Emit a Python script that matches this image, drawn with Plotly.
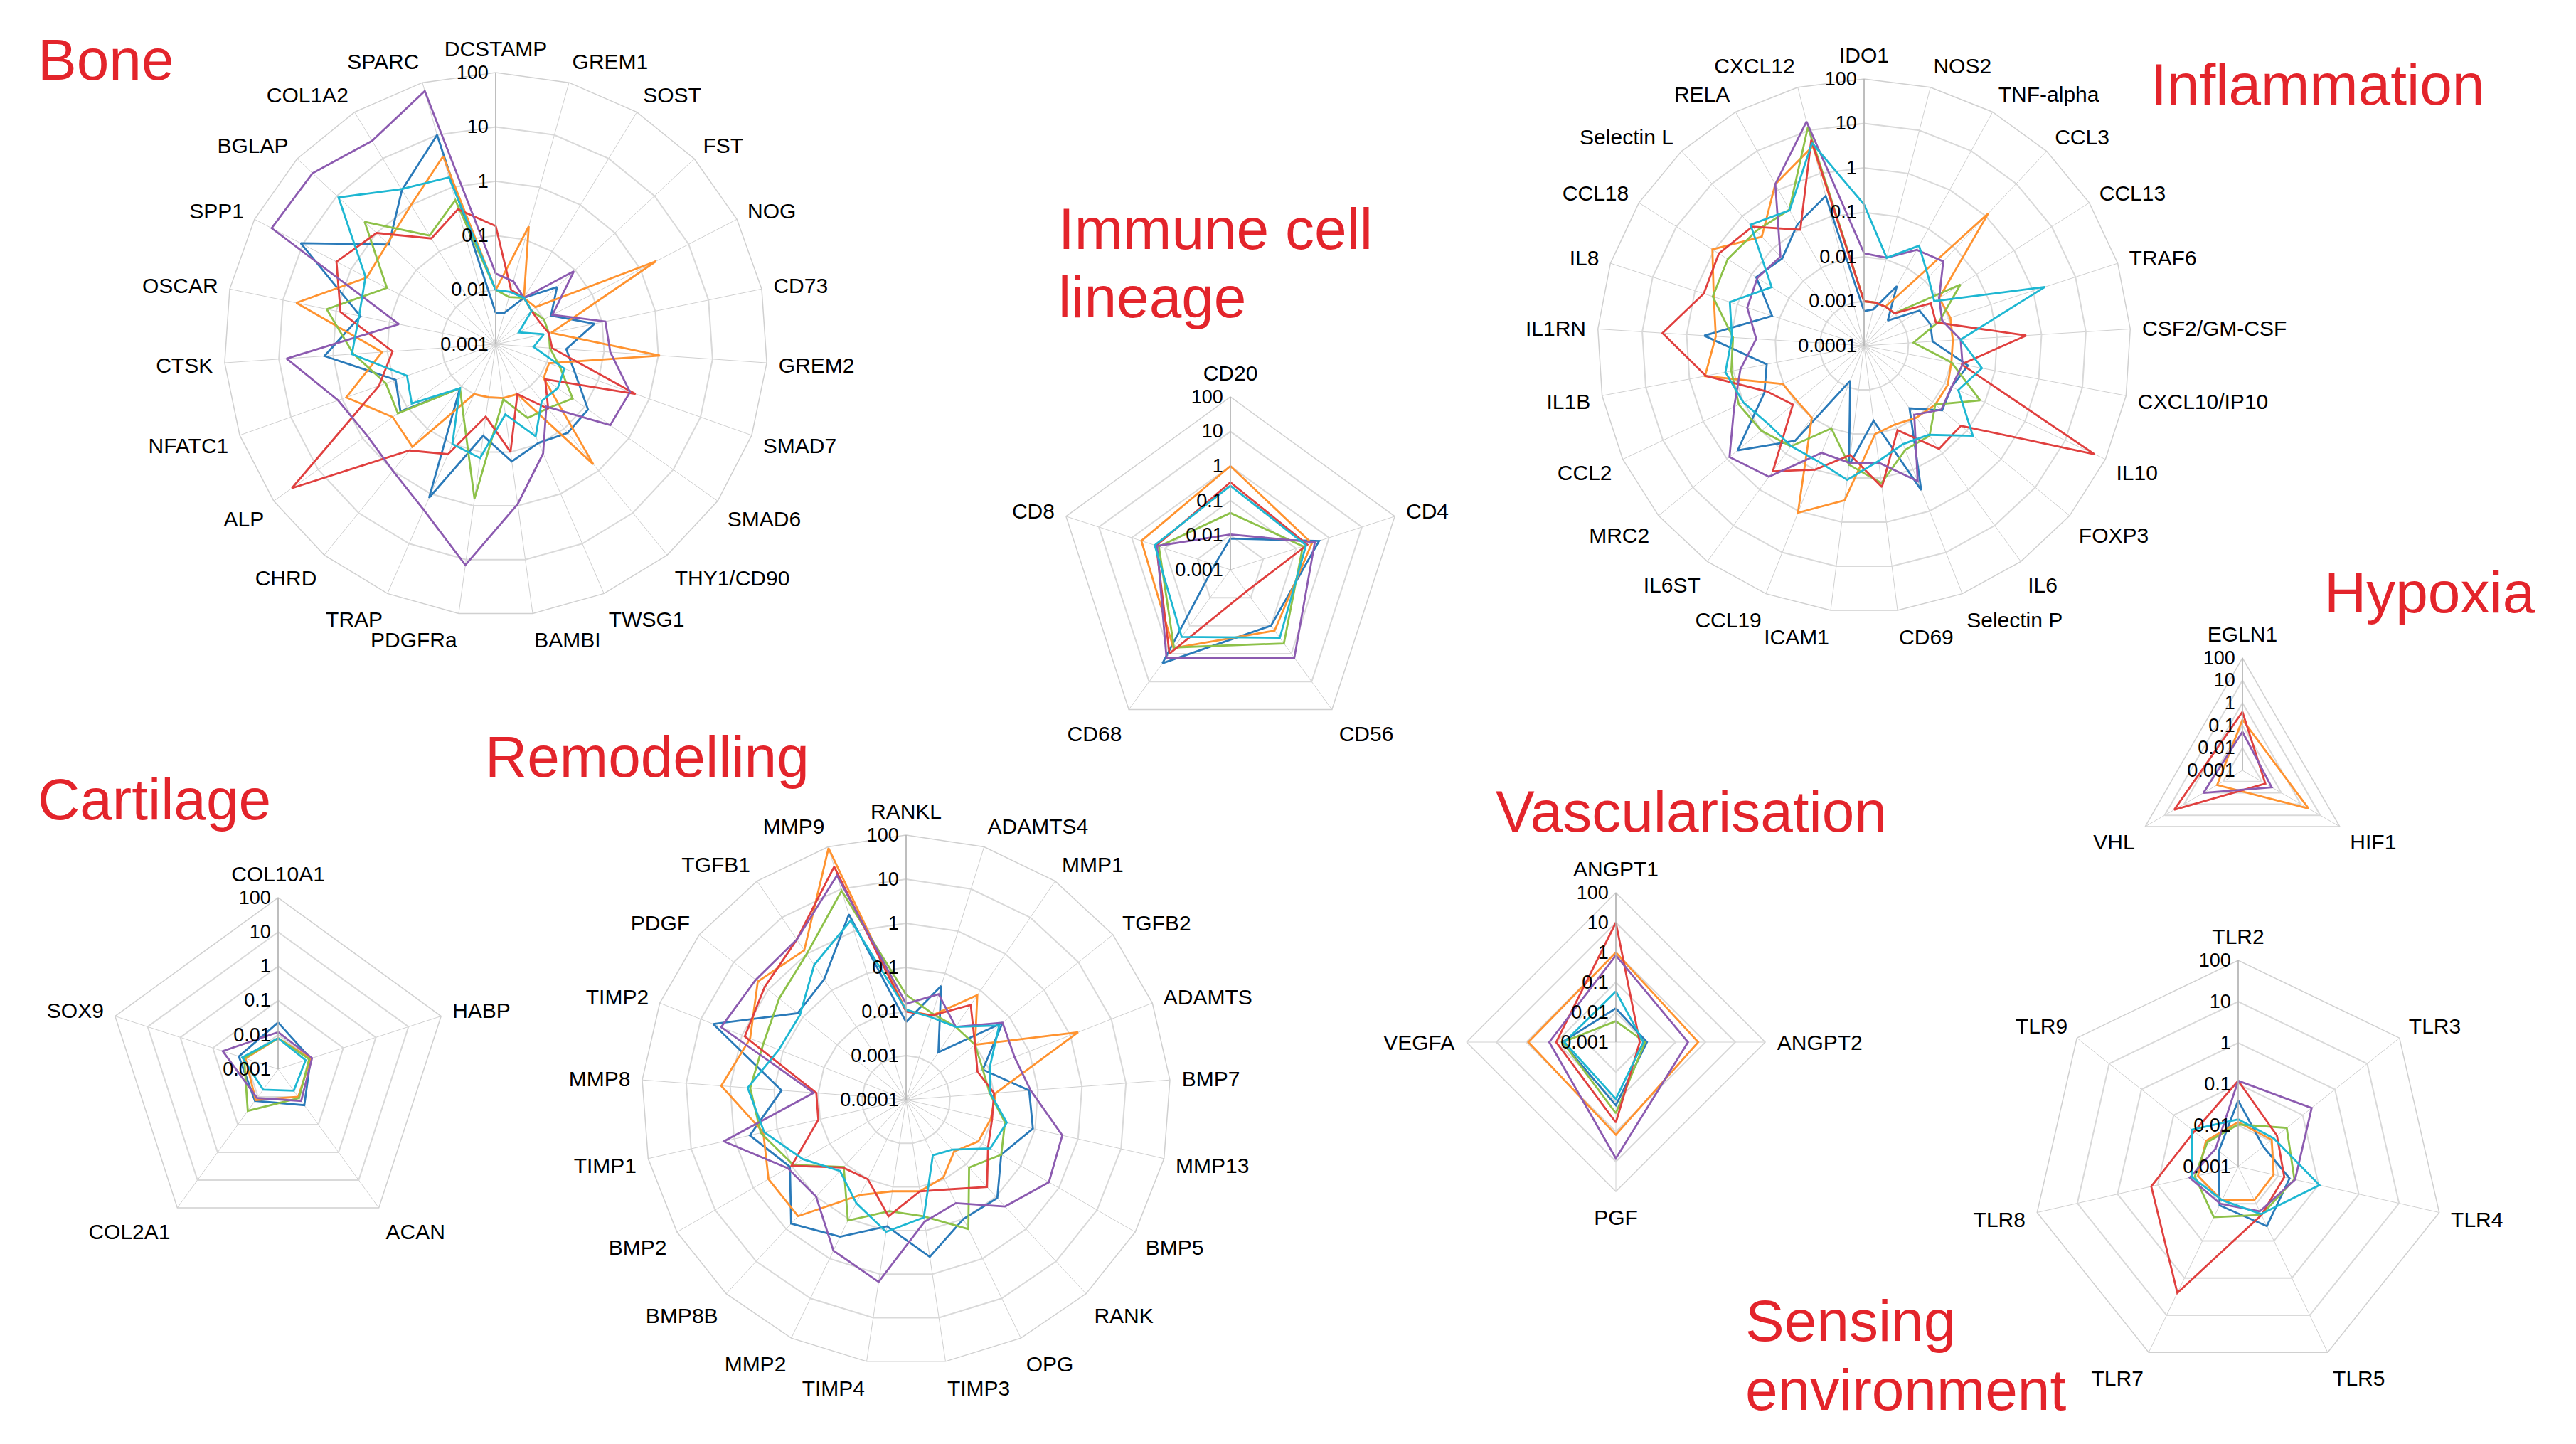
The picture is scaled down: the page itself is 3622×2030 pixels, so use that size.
import plotly.graph_objects as go

W, H = 3622, 2030
FONT = "Liberation Sans, Arial, Helvetica, sans-serif"
COLORS = {"blue": "#2a7ab9", "orange": "#ff9330", "green": "#8dc149",
          "red": "#e0403f", "purple": "#8c5bb0", "cyan": "#1eb7d2"}
SERIES = ["blue", "orange", "green", "red", "purple", "cyan"]

# ---------------- Bone ----------------
bone_cats = ["DCSTAMP", "GREM1", "SOST", "FST", "NOG", "CD73", "GREM2", "SMAD7", "SMAD6",
             "THY1/CD90", "TWSG1", "BAMBI", "PDGFRa", "TRAP", "CHRD", "ALP", "NFATC1",
             "CTSK", "OSCAR", "SPP1", "BGLAP", "COL1A2", "SPARC"]
bone_blue = [0.0038, 0.004, 0.01, 0.035, 0.014, 0.072, 0.02, 0.035, 0.12, 0.126, 0.095, 0.15,
             0.05, 1.2, 0.011, 0.14, 0.09, 1.44, 0.35, 11, 0.49, 2.1, 10]
bone_orange = [0.01, 0.18, 0.01, 0.01, 2.1, 0.011, 1.07, 0.011, 0.012, 0.7, 0.01, 0.01,
               0.0096, 0.01, 0.27, 0.21, 0.83, 0.125, 5.6, 0.47, 0.53, 1.0, 3.9]
bone_green = [0.01, 0.008, 0.01, 0.008, 0.01, 0.01, 0.01, 0.018, 0.054, 0.033, 0.03, 0.0105,
              0.74, 0.03, 0.011, 0.16, 0.14, 0.42, 1.5, 0.18, 2.0, 0.22, 0.57]
bone_red = [0.15, 0.011, 0.01, 0.008, 0.008, 0.01, 0.011, 0.54, 0.013, 0.034, 0.01, 0.1,
            0.022, 0.16, 0.33, 39, 0.19, 0.08, 0.83, 2.0, 1.0, 0.19, 0.38]
bone_purple = [0.02, 0.016, 0.01, 0.093, 0.015, 0.115, 0.13, 0.42, 0.38, 0.03, 0.155, 0.93,
               12.6, 2.1, 1.0, 0.8, 1.2, 7.2, 0.066, 44, 41, 24, 69]
bone_cyan = [0.01, 0.01, 0.01, 0.008, 0.003, 0.008, 0.005, 0.022, 0.025, 0.022, 0.07, 0.02,
             0.13, 0.1, 0.011, 0.078, 0.054, 0.45, 0.37, 0.5, 9.1, 2.2, 1.55]

# ---------------- Immune cell lineage ----------------
imm_cats = ["CD20", "CD4", "CD56", "CD68", "CD8"]
imm_blue = [0.008, 0.5, 0.1, 2.2, 0.003]
imm_orange = [1.0, 0.3, 0.15, 0.63, 0.51]
imm_green = [0.044, 0.16, 0.43, 0.6, 0.15]
imm_red = [0.34, 0.22, 0.006, 1.0, 0.18]
imm_purple = [0.0105, 0.37, 1.4, 1.4, 0.17]
imm_cyan = [0.27, 0.2, 0.27, 0.25, 0.2]

# ---------------- Inflammation ----------------
inf_cats = ["IDO1", "NOS2", "TNF-alpha", "CCL3", "CCL13", "TRAF6", "CSF2/GM-CSF", "CXCL10/IP10",
            "IL10", "FOXP3", "IL6", "Selectin P", "CD69", "ICAM1", "CCL19", "IL6ST", "MRC2",
            "CCL2", "IL1B", "IL1RN", "IL8", "CCL18", "Selectin L", "RELA", "CXCL12"]
inf_blue = [0.0006, 0.0007, 0.0034, 0.0006, 0.003, 0.0037, 0.0035, 0.024, 0.015, 0.019, 0.0055,
            0.31, 0.005, 0.052, 0.0007, 0.044, 0.49, 0.03, 0.017, 0.4, 0.015, 0.075, 0.049, 0.13, 0.3]
inf_orange = [0.001, 0.001, 0.001, 1.2, 0.01, 0.011, 0.01, 0.01, 0.012, 0.012, 0.01, 0.008,
              0.01, 0.32, 1.1, 0.01, 0.009, 0.0105, 0.44, 0.22, 0.36, 1.1, 0.23, 1.4, 4.3]
inf_green = [0.001, 0.001, 0.001, 0.001, 0.037, 0.006, 0.0013, 0.01, 0.077, 0.012, 0.032, 0.033,
             0.13, 0.05, 0.01, 0.063, 0.1, 0.13, 0.11, 0.09, 0.38, 0.43, 0.35, 0.31, 12]
inf_red = [0.001, 0.001, 0.001, 0.001, 0.006, 0.005, 0.45, 0.017, 54, 0.067, 0.074, 0.011,
           0.16, 0.03, 0.1, 0.31, 0.012, 0.026, 0.42, 3.5, 0.62, 0.74, 0.47, 0.095, 6]
inf_purple = [0.012, 0.011, 0.029, 0.04, 0.01, 0.007, 0.015, 0.018, 0.015, 0.018, 0.0083, 0.19,
              0.045, 0.045, 0.039, 0.44, 0.85, 0.17, 0.068, 0.027, 0.058, 0.07, 0.056, 1.4, 16]
inf_cyan = [0.15, 0.011, 0.037, 0.013, 0.0074, 1.9, 0.015, 0.05, 0.022, 0.15, 0.03, 0.024,
            0.041, 0.11, 0.063, 0.062, 0.06, 0.1, 0.15, 0.095, 0.15, 0.029, 0.54, 0.3, 5.1]

# ---------------- Hypoxia ----------------
hyp_cats = ["EGLN1", "HIF1", "VHL"]
hyp_orange = [0.18, 2.5, 0.02]
hyp_red = [0.4, 0.015, 3.2]
hyp_purple = [0.052, 0.032, 0.1]

# ---------------- Cartilage ----------------
car_cats = ["COL10A1", "HABP", "ACAN", "COL2A1", "SOX9"]
car_blue = [0.023, 0.01, 0.02, 0.014, 0.016]
car_orange = [0.008, 0.01, 0.01, 0.013, 0.01]
car_green = [0.008, 0.009, 0.011, 0.032, 0.011]
car_purple = [0.012, 0.011, 0.014, 0.011, 0.05]
car_cyan = [0.008, 0.007, 0.006, 0.0055, 0.0126]

# ---------------- Remodelling ----------------
rem_cats = ["RANKL", "ADAMTS4", "MMP1", "TGFB2", "ADAMTS", "BMP7", "MMP13", "BMP5", "RANK",
            "OPG", "TIMP3", "TIMP4", "MMP2", "BMP8B", "BMP2", "TIMP1", "MMP8", "TIMP2",
            "PDGF", "TGFB1", "MMP9"]
rem_blue = [0.0058, 0.05, 0.002, 0.063, 0.0074, 0.063, 0.089, 0.031, 0.11, 0.1, 0.4, 0.08,
            0.28, 0.68, 0.11, 0.43, 0.068, 5.0, 0.14, 0.2, 2.5]
rem_orange = [0.0105, 0.01, 0.074, 0.01, 1.55, 0.011, 0.0093, 0.0078, 0.004, 0.009, 0.0126,
              0.0126, 0.025, 0.4, 0.4, 0.21, 1.6, 0.63, 2.0, 1.26, 93]
rem_green = [0.024, 0.011, 0.01, 0.01, 0.0074, 0.008, 0.02, 0.031, 0.0126, 0.18, 0.047, 0.036,
             0.11, 0.012, 0.09, 0.24, 0.35, 0.3, 0.48, 1.0, 9.1]
rem_red = [0.01, 0.01, 0.04, 0.01, 0.0055, 0.01, 0.01, 0.014, 0.05, 0.018, 0.0126, 0.047,
           0.01, 0.0126, 0.1, 0.011, 0.011, 0.85, 1.26, 2.5, 34]
rem_purple = [0.015, 0.032, 0.01, 0.063, 0.044, 0.068, 0.43, 0.55, 0.2, 0.04, 0.063, 1.5,
              0.63, 0.1, 0.126, 1.74, 0.0126, 3.2, 2.3, 2.5, 21]
rem_cyan = [0.011, 0.009, 0.01, 0.05, 0.011, 0.0083, 0.022, 0.016, 0.0035, 0.0025, 0.05, 0.107,
            0.04, 0.016, 0.05, 0.2, 0.4, 0.126, 0.12, 0.5, 1.8]

# ---------------- Vascularisation ----------------
vas_cats = ["ANGPT1", "ANGPT2", "PGF", "VEGFA"]
vas_blue = [0.0135, 0.011, 0.13, 0.063]
vas_orange = [1.0, 0.57, 1.26, 0.85]
vas_green = [0.005, 0.0095, 0.24, 0.06]
vas_red = [10, 0.0063, 0.49, 0.1]
vas_purple = [0.8, 0.26, 7.8, 0.17]
vas_cyan = [0.05, 0.0083, 0.08, 0.053]

# ---------------- Sensing environment ----------------
sen_cats = ["TLR2", "TLR3", "TLR4", "TLR5", "TLR7", "TLR8", "TLR9"]
sen_blue = [0.04, 0.006, 0.019, 0.04, 0.011, 0.003, 0.004]
sen_orange = [0.012, 0.011, 0.0076, 0.008, 0.0081, 0.01, 0.01]
sen_green = [0.0105, 0.032, 0.025, 0.02, 0.023, 0.012, 0.009]
sen_red = [0.12, 0.016, 0.014, 0.02, 2.5, 0.145, 0.023]
sen_purple = [0.12, 0.19, 0.026, 0.016, 0.01, 0.016, 0.005]
sen_cyan = [0.014, 0.0126, 0.105, 0.019, 0.008, 0.014, 0.027]

ticks6 = [0.0001, 0.001, 0.01, 0.1, 1, 10, 100]
ticks6_text = ["0.0001", "0.001", "0.01", "0.1", "1", "10", "100"]

panels = [
    dict(cats=bone_cats, data=dict(blue=bone_blue, orange=bone_orange, green=bone_green,
         red=bone_red, purple=bone_purple, cyan=bone_cyan), c=(689, 476), R=382, lo=-3),
    dict(cats=imm_cats, data=dict(blue=imm_blue, orange=imm_orange, green=imm_green,
         red=imm_red, purple=imm_purple, cyan=imm_cyan), c=(1722, 793), R=243, lo=-3),
    dict(cats=inf_cats, data=dict(blue=inf_blue, orange=inf_orange, green=inf_green,
         red=inf_red, purple=inf_purple, cyan=inf_cyan), c=(2613, 478), R=375, lo=-4),
    dict(cats=hyp_cats, data=dict(orange=hyp_orange, red=hyp_red, purple=hyp_purple),
         c=(3145, 1075), R=158, lo=-3),
    dict(cats=car_cats, data=dict(blue=car_blue, orange=car_orange, green=car_green,
         purple=car_purple, cyan=car_cyan), c=(383, 1495), R=241, lo=-3),
    dict(cats=rem_cats, data=dict(blue=rem_blue, orange=rem_orange, green=rem_green,
         red=rem_red, purple=rem_purple, cyan=rem_cyan), c=(1266, 1538), R=372, lo=-4),
    dict(cats=vas_cats, data=dict(blue=vas_blue, orange=vas_orange, green=vas_green,
         red=vas_red, purple=vas_purple, cyan=vas_cyan), c=(2264, 1457), R=210, lo=-3),
    dict(cats=sen_cats, data=dict(blue=sen_blue, orange=sen_orange, green=sen_green,
         red=sen_red, purple=sen_purple, cyan=sen_cyan), c=(3139, 1632), R=290, lo=-3),
]

fig = go.Figure()
layout = dict(width=W, height=H, margin=dict(l=0, r=0, t=0, b=0),
              paper_bgcolor="white", plot_bgcolor="white", showlegend=False,
              font=dict(family=FONT, color="black"))

for i, p in enumerate(panels):
    key = "polar" if i == 0 else f"polar{i+1}"
    cats = p["cats"]
    for s in SERIES:
        if s not in p["data"]:
            continue
        v = p["data"][s]
        fig.add_trace(go.Scatterpolar(
            r=v + [v[0]], theta=cats + [cats[0]], mode="lines",
            line=dict(color=COLORS[s], width=2.8), subplot=key, hoverinfo="skip"))
    cx, cy = p["c"]
    R = p["R"]
    k0 = 0 if p["lo"] == -4 else 1
    layout[key] = dict(
        domain=dict(x=[(cx - R) / W, (cx + R) / W], y=[1 - (cy + R) / H, 1 - (cy - R) / H]),
        gridshape="linear", bgcolor="white",
        angularaxis=dict(type="category", categoryarray=cats, direction="clockwise",
                         rotation=90, showline=True, linecolor="#d0d0d0", linewidth=1.5,
                         gridcolor="#d0d0d0", gridwidth=1.2, ticks="outside", ticklen=10,
                         tickcolor="rgba(0,0,0,0)",
                         tickfont=dict(size=30, family=FONT, color="black")),
        radialaxis=dict(type="log", range=[p["lo"], 2], tickvals=ticks6[k0:],
                        ticktext=ticks6_text[k0:], angle=90, tickangle=90,
                        side="counterclockwise", showline=True, linecolor="#b0b0b0",
                        linewidth=1.5, gridcolor="#d9d9d9", gridwidth=1.5, ticks="",
                        tickfont=dict(size=27, family=FONT, color="black")),
    )

titles = [("Bone", 43, 75), ("Inflammation", 3014, 111), ("Immune cell", 1478, 313),
          ("lineage", 1478, 410), ("Hypoxia", 3258, 824), ("Cartilage", 43, 1115),
          ("Remodelling", 672, 1055), ("Vascularisation", 2093, 1132),
          ("Sensing", 2444, 1848), ("environment", 2444, 1945)]
ann = []
for t, x, y in titles:
    ann.append(dict(text=t, x=x / W, y=1 - y / H, xref="paper", yref="paper",
                    xanchor="left", yanchor="middle", showarrow=False,
                    font=dict(size=82, color="#e3242b", family=FONT)))
layout["annotations"] = ann
fig.update_layout(**layout)
fig.write_html("out.html")
